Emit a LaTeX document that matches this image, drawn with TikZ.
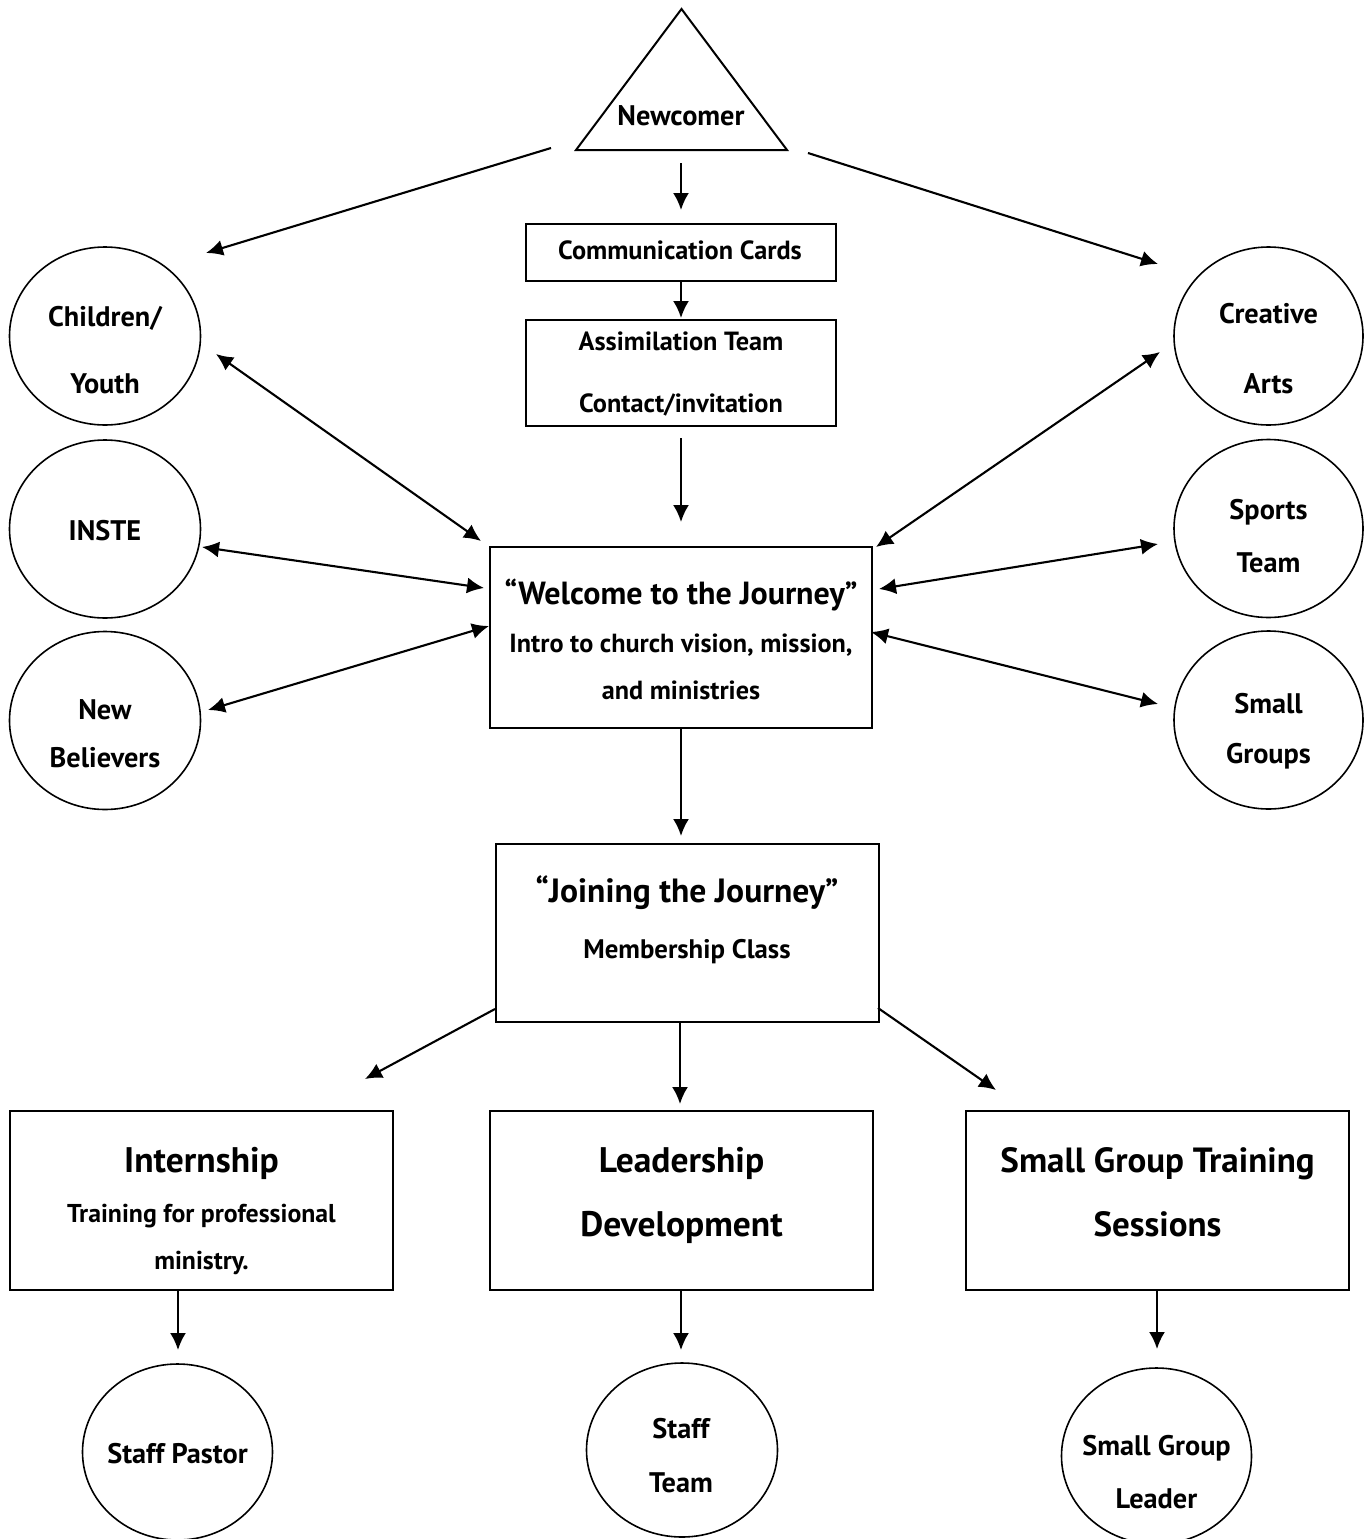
\documentclass[tikz,border=0pt]{standalone}
\usepackage{fontspec}
\setmainfont{PT Sans}
\usetikzlibrary{shapes.geometric,arrows.meta,calc}
\tikzset{
  box/.style={draw, rectangle, line width=2.1pt, inner sep=0pt, outer sep=0pt},
  circ/.style={draw, ellipse, line width=1.6pt, inner sep=0pt, outer sep=0pt},
  lbl/.style={anchor=base, inner sep=0pt, font=\bfseries\fontsize{#1}{#1}\selectfont},
  arr/.style={-{Latex[length=17pt,width=16pt]}, line width=2.1pt},
  darr/.style={{Latex[length=17pt,width=16pt]}-{Latex[length=17pt,width=16pt]}, line width=2.1pt},
}
\begin{document}
\begin{tikzpicture}[x=1pt,y=-1pt]
\path[fill=white] (0,0) rectangle (1371,1539);
\useasboundingbox (0,0) rectangle (1371,1539);

% Newcomer triangle
\node[inner sep=0pt, outer sep=0pt, minimum width=211pt, minimum height=141pt] (newcomer) at (681.5,79.5) {};
\draw[line width=2pt, line join=miter] (newcomer.north) -- (newcomer.south west) -- (newcomer.south east) -- cycle;
\node[lbl=28.3] (newcomertxt) at (681,125) {Newcomer};

% central boxes
\node[box, minimum width=310pt, minimum height=57pt] (cards) at (681,252.5) {};
\node[lbl=26.3] (cardstxt) at (680,259) {Communication Cards};
\node[box, minimum width=310pt, minimum height=106pt] (assim) at (681,373) {};
\node[lbl=26.3] (assimtxta) at (681,350) {Assimilation Team};
\node[lbl=26.3] (assimtxtb) at (681,412) {Contact/invitation};

\node[box, minimum width=382pt, minimum height=181pt] (welcome) at (681,637.5) {};
\node[lbl=32] (welcometxta) at (681,604) {“Welcome to the Journey”};
\node[lbl=26.2] (welcometxtb) at (681,652) {Intro to church vision, mission,};
\node[lbl=26.2] (welcometxtc) at (681,699) {and ministries};

\node[box, minimum width=383pt, minimum height=178pt] (joining) at (687.5,933) {};
\node[lbl=33.6] (joiningtxta) at (687,902) {“Joining the Journey”};
\node[lbl=26.8] (joiningtxtb) at (687,958) {Membership Class};

% bottom boxes
\node[box, minimum width=383pt, minimum height=179pt] (intern) at (201.5,1200.5) {};
\node[lbl=35.5] (interntxta) at (201.5,1172) {Internship};
\node[lbl=25.8] (interntxtb) at (201.5,1222) {Training for professional};
\node[lbl=25.8] (interntxtc) at (201.5,1269) {ministry.};

\node[box, minimum width=383pt, minimum height=179pt] (leader) at (681.5,1200.5) {};
\node[lbl=35.5] (leadertxta) at (681.5,1172) {Leadership};
\node[lbl=35.5] (leadertxtb) at (681.5,1236) {Development};

\node[box, minimum width=383pt, minimum height=179pt] (sgtrain) at (1157.5,1200.5) {};
\node[lbl=35] (sgtraintxta) at (1157.5,1172) {Small Group Training};
\node[lbl=35] (sgtraintxtb) at (1157.5,1236) {Sessions};

% left circles
\node[circ, minimum width=191pt, minimum height=178pt] (children) at (105,336) {};
\node[lbl=28.3] (childrentxta) at (105,326) {Children/};
\node[lbl=28.3] (childrentxtb) at (105,393) {Youth};
\node[circ, minimum width=191pt, minimum height=178pt] (inste) at (105,529) {};
\node[lbl=28.3] (instetxt) at (105,540) {INSTE};
\node[circ, minimum width=191pt, minimum height=178pt] (newbel) at (105,720.5) {};
\node[lbl=28.3] (newbeltxta) at (105,719.5) {New};
\node[lbl=28.3] (newbeltxtb) at (105,767) {Believers};

% right circles
\node[circ, minimum width=189pt, minimum height=178pt] (creative) at (1268.5,336) {};
\node[lbl=28.3] (creativetxta) at (1268.5,323) {Creative};
\node[lbl=28.3] (creativetxtb) at (1268.5,393) {Arts};
\node[circ, minimum width=189pt, minimum height=178pt] (sports) at (1268.5,528.5) {};
\node[lbl=28.3] (sportstxta) at (1268.5,519) {Sports};
\node[lbl=28.3] (sportstxtb) at (1268.5,572.5) {Team};
\node[circ, minimum width=189pt, minimum height=178pt] (smallgroups) at (1268.5,720) {};
\node[lbl=28.3] (smallgroupstxta) at (1268.5,713) {Small};
\node[lbl=28.3] (smallgroupstxtb) at (1268.5,763) {Groups};

% bottom circles
\node[circ, minimum width=190pt, minimum height=176pt] (pastor) at (177.5,1452) {};
\node[lbl=28.3] (pastortxt) at (177.5,1463) {Staff Pastor};
\node[circ, minimum width=191pt, minimum height=174pt] (staffteam) at (682,1450) {};
\node[lbl=28.3] (staffteamtxta) at (681,1438) {Staff};
\node[lbl=28.3] (staffteamtxtb) at (681,1492) {Team};
\node[circ, minimum width=190pt, minimum height=176pt] (sgleader) at (1156.5,1456) {};
\node[lbl=28.3] (sgleadertxta) at (1156.5,1455) {Small Group};
\node[lbl=28.3] (sgleadertxtb) at (1156.5,1508) {Leader};

% connectors
\draw[arr] ($(newcomer)+(-130.5,68.5)$) -- ($(children)+(101,-83)$);
\draw[arr] ($(newcomer)+(126.5,73.5)$) -- ($(creative)+(-110.5,-72)$);
\draw[arr] ($(newcomer.south)+(-0.5,13)$) -- ($(cards.north)+(0,-14)$);
\draw[arr] (cards.south) -- ($(assim.north)+(0,-2)$);
\draw[arr] ($(assim.south)+(0,12)$) -- ($(welcome.north)+(0,-25)$);

\draw[darr] ($(children)+(111,18)$) -- ($(welcome.north west)+(-9,-6)$);
\draw[darr] ($(inste)+(97,18)$) -- ($(welcome.north west)+(-6,41)$);
\draw[darr] ($(newbel)+(103,-10.5)$) -- ($(welcome.north west)+(-1,79)$);
\draw[darr] ($(creative)+(-108.5,16)$) -- ($(welcome.north east)+(4,0)$);
\draw[darr] ($(sports)+(-110.5,15.5)$) -- ($(welcome.north east)+(7,42)$);
\draw[darr] ($(smallgroups)+(-110.5,-16)$) -- ($(welcome.north east)+(-1,85)$);

\draw[arr] (welcome.south) -- ($(joining.north west)+(185,-8)$);
\draw[arr] ($(joining.south west)+(-1,-13)$) -- ($(intern.north east)+(-28,-32)$);
\draw[arr] ($(joining.south west)+(184,-1)$) -- ($(leader.north)+(-1.5,-7)$);
\draw[arr] ($(joining.south east)+(-1,-14)$) -- ($(sgtrain.north west)+(30,-21)$);

\draw[arr] ($(intern.south west)+(168,0)$) -- ($(pastor.north)+(0.5,-14)$);
\draw[arr] ($(leader.south)+(-0.5,0)$) -- ($(staffteam.north)+(-1,-13)$);
\draw[arr] ($(sgtrain.south)+(-0.5,0)$) -- ($(sgleader.north)+(0.5,-19)$);
\end{tikzpicture}
\end{document}
